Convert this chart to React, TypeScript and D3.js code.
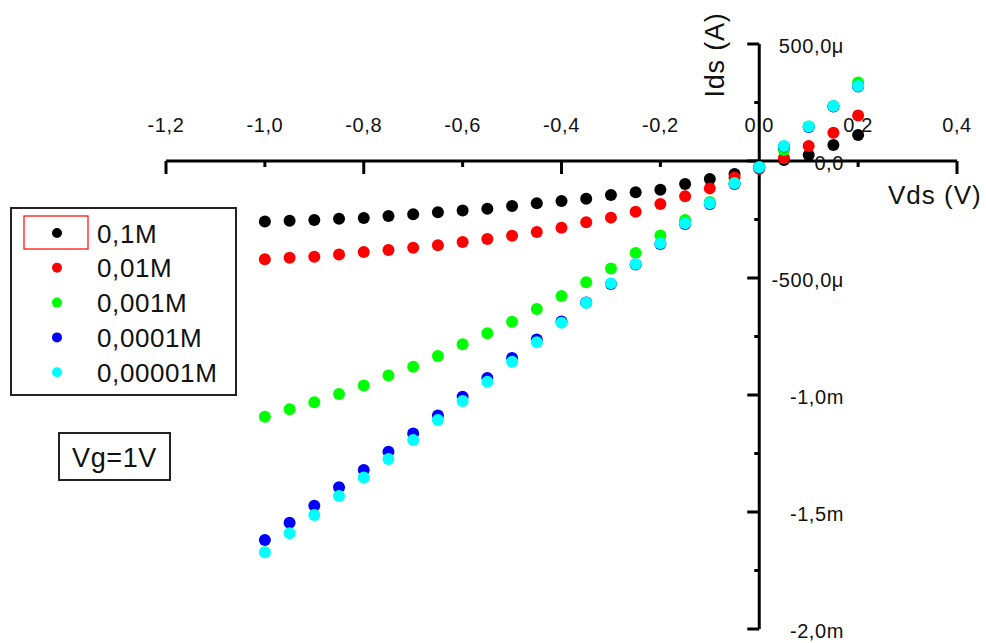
import React from 'react';
import * as d3 from 'd3';

// Vds (V)
const vds = [-1.0, -0.95, -0.9, -0.85, -0.8, -0.75, -0.7, -0.65, -0.6, -0.55, -0.5, -0.45, -0.4, -0.35, -0.3, -0.25, -0.2, -0.15, -0.1, -0.05, 0.0, 0.05, 0.1, 0.15, 0.2];

// Ids in mA
const ids_01M = [-0.259, -0.255, -0.252, -0.247, -0.244, -0.235, -0.228, -0.219, -0.212, -0.204, -0.192, -0.181, -0.171, -0.161, -0.145, -0.134, -0.123, -0.098, -0.077, -0.056, -0.026, 0.004, 0.026, 0.068, 0.111];
const ids_001M = [-0.420, -0.413, -0.409, -0.400, -0.389, -0.380, -0.371, -0.360, -0.346, -0.333, -0.319, -0.303, -0.285, -0.262, -0.242, -0.217, -0.184, -0.151, -0.117, -0.071, -0.033, 0.013, 0.064, 0.121, 0.194];
const ids_0001M = [-1.093, -1.061, -1.031, -0.996, -0.959, -0.917, -0.879, -0.833, -0.783, -0.736, -0.687, -0.632, -0.577, -0.518, -0.459, -0.393, -0.318, -0.252, -0.175, -0.094, -0.026, 0.047, 0.147, 0.235, 0.335];
const ids_00001M = [-1.620, -1.546, -1.473, -1.394, -1.321, -1.242, -1.164, -1.088, -1.007, -0.927, -0.842, -0.763, -0.686, -0.605, -0.526, -0.442, -0.355, -0.269, -0.184, -0.098, -0.028, 0.062, 0.145, 0.233, 0.318];
const ids_000001M = [-1.672, -1.591, -1.513, -1.432, -1.353, -1.274, -1.192, -1.107, -1.026, -0.943, -0.858, -0.775, -0.691, -0.606, -0.523, -0.440, -0.352, -0.266, -0.181, -0.095, -0.027, 0.064, 0.147, 0.235, 0.321];

const seriesNames = ['0,1M', '0,01M', '0,001M', '0,0001M', '0,00001M'];
const seriesColors = ['#000000', '#ff0000', '#00ff00', '#0000ff', '#00ffff'];
const seriesValues = [ids_01M, ids_001M, ids_0001M, ids_00001M, ids_000001M];

const xTicks = [-1.2, -1.0, -0.8, -0.6, -0.4, -0.2, 0.0, 0.2, 0.4];
const xTickLabels = ['-1,2', '-1,0', '-0,8', '-0,6', '-0,4', '-0,2', '0,0', '0,2', '0,4'];
const xMajor = [true, false, true, false, true, false, true, false, true];

const yTicks = [0.5, 0, -0.5, -1.0, -1.5, -2.0];
const yTickLabels = ['500,0μ', '0,0', '-500,0μ', '-1,0m', '-1,5m', '-2,0m'];
const yMinor = [0.25, -0.25, -0.75, -1.25, -1.75];

const FONT = '"Liberation Sans", Arial, sans-serif';

export default function App() {
  const x = d3.scaleLinear().domain([-1.2, 0.4]).range([166, 957]);
  const y = d3.scaleLinear().domain([-2.0, 0.5]).range([629, 44]);
  const x0 = x(0);
  const y0 = y(0);

  const legendX = 57;
  const legendRows = seriesNames.map((_, i) => 233 + i * 34.8);

  return (
    <svg width={986} height={643} style={{ position: 'absolute', left: 0, top: 0, background: '#fff' }} fontFamily={FONT}>
      <rect x={0} y={0} width={986} height={643} fill="#fff" />
      {/* X axis */}
      <line x1={x(-1.2)} x2={x(0.4)} y1={y0} y2={y0} stroke="#000" strokeWidth={3} />
      {xTicks.map((t, i) => (
        <line key={'xt' + i} x1={x(t)} x2={x(t)} y1={y0} y2={y0 + (xMajor[i] ? 13 : 6)} stroke="#000" strokeWidth={3} />
      ))}
      {xTicks.map((t, i) => (
        <text key={'xl' + i} x={x(t)} y={127} textAnchor="middle" dominantBaseline="middle" fontSize={20} letterSpacing={0.6} fill="#111">
          {xTickLabels[i]}
        </text>
      ))}
      {/* Y axis */}
      <line x1={x0} x2={x0} y1={y(0.5)} y2={y(-2.0)} stroke="#000" strokeWidth={3} />
      {yTicks.map((t, i) => (
        <line key={'yt' + i} x1={x0 - 12} x2={x0} y1={y(t)} y2={y(t)} stroke="#000" strokeWidth={3} />
      ))}
      {yMinor.map((t, i) => (
        <line key={'ym' + i} x1={x0 - 5} x2={x0} y1={y(t)} y2={y(t)} stroke="#000" strokeWidth={3} />
      ))}
      {yTicks.map((t, i) => (
        <text key={'yl' + i} x={844} y={y(t) + 4} textAnchor="end" dominantBaseline="middle" fontSize={20} letterSpacing={0.6} fill="#111">
          {yTickLabels[i]}
        </text>
      ))}
      {/* Axis titles */}
      <text x={717} y={55} transform="rotate(-90 717 55)" textAnchor="middle" dominantBaseline="middle" fontSize={27} letterSpacing={0.8} fill="#111">
        Ids (A)
      </text>
      <text x={888} y={204} fontSize={26} letterSpacing={1} fill="#111">
        Vds (V)
      </text>
      {/* Data */}
      {seriesValues.map((vals, si) => (
        <g key={'s' + si} fill={seriesColors[si]}>
          {vals.map((v, j) => (
            <circle key={j} cx={x(vds[j])} cy={y(v)} r={6} />
          ))}
        </g>
      ))}
      {/* Legend */}
      <rect x={11} y={208} width={225} height={187} fill="#fff" stroke="#222" strokeWidth={2} />
      <rect x={24} y={216} width={64} height={33} fill="none" stroke="#ff0000" strokeWidth={1.2} />
      {seriesNames.map((n, i) => (
        <g key={'lg' + i}>
          <circle cx={legendX} cy={legendRows[i]} r={5} fill={seriesColors[i]} />
          <text x={97} y={legendRows[i] + 9.5} fontSize={26} letterSpacing={0.6} fill="#111">{n}</text>
        </g>
      ))}
      {/* Vg annotation */}
      <rect x={59} y={433} width={111} height={47} fill="#fff" stroke="#222" strokeWidth={2} />
      <text x={114.5} y={466.5} textAnchor="middle" fontSize={27} letterSpacing={0.6} fill="#111">Vg=1V</text>
    </svg>
  );
}
